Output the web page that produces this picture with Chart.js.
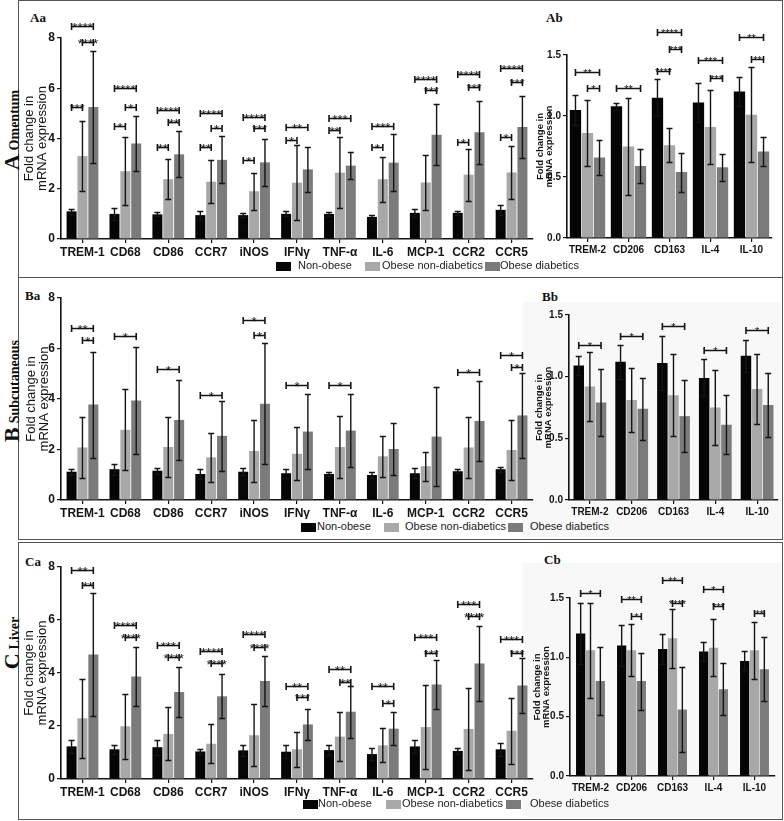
<!DOCTYPE html>
<html>
<head>
<meta charset="utf-8">
<script src="https://cdn.jsdelivr.net/npm/chart.js@4.4.0/dist/chart.umd.min.js"></script>
<style>
  body { margin: 0; background: #fff; width: 784px; height: 821px; position: relative; overflow: hidden; font-family: Arial, "Liberation Sans", sans-serif; }
  .sec { position: absolute; left: 18px; width: 765px; border: 1.5px solid #555; box-sizing: border-box; }
  .shade { position: absolute; background: #f8f8f8; }
  canvas { position: absolute; }
  .letter { position: absolute; font-family: "Liberation Serif", "Times New Roman", serif; font-weight: bold; font-size: 13px; line-height: 13px; color: #111; }
  .side { position: absolute; transform: translate(-50%, -50%) rotate(-90deg); white-space: nowrap; font-family: "Liberation Serif", "Times New Roman", serif; font-weight: bold; font-size: 14px; color: #111; }
  .side b { font-size: 22px; margin-right: 4px; }
  .key { position: absolute; font-size: 11px; line-height: 11px; color: #222; white-space: nowrap; }
  .sw { position: absolute; width: 15px; height: 9px; }
</style>
</head>
<body>
<div class="sec" style="top:0;height:278px"></div>
<div class="sec" style="top:277px;height:263px"></div>
<div class="sec" style="top:542px;height:278px"></div>
<div class="shade" style="left:523px;top:302px;width:258px;height:235px"></div>
<div class="shade" style="left:523px;top:563px;width:258px;height:254px"></div>

<div class="side" style="left:12px;top:130px"><b>A</b>Omentum</div>
<div class="side" style="left:12px;top:391px"><b>B</b>Subcutaneous</div>
<div class="side" style="left:12px;top:643px"><b>C</b>Liver</div>

<div class="letter" style="left:30px;top:11px">Aa</div>
<div class="letter" style="left:546px;top:11px">Ab</div>
<div class="letter" style="left:25px;top:289px">Ba</div>
<div class="letter" style="left:542px;top:290px">Bb</div>
<div class="letter" style="left:25px;top:555px">Ca</div>
<div class="letter" style="left:544px;top:553px">Cb</div>

<canvas id="aa"></canvas>
<canvas id="ab"></canvas>
<canvas id="ba"></canvas>
<canvas id="bb"></canvas>
<canvas id="ca"></canvas>
<canvas id="cb"></canvas>

<div id="keys"></div>

<script>
// groups and categories
const groups = ['Non-obese', 'Obese non-diabetics', 'Obese diabetics'];
const barColors = ['#050505', '#a8a8a8', '#7b7b7b'];
const m1Genes = ['TREM-1', 'CD68', 'CD86', 'CCR7', 'iNOS', 'IFNγ', 'TNF-α', 'IL-6', 'MCP-1', 'CCR2', 'CCR5'];
const m2Genes = ['TREM-2', 'CD206', 'CD163', 'IL-4', 'IL-10'];
const leftTicks = [0, 2, 4, 6, 8];
const leftTickLabels = ['0', '2', '4', '6', '8'];
const rightTicks = [0, 0.5, 1.0, 1.5];
const rightTickLabels = ['0.0', '0.5', '1.0', '1.5'];

// A  omentum, M1 markers (mean rows: non-obese, obese non-diab, obese diab)
const omM1Mean = [
  [1.1, 1.0, 0.98, 0.95, 0.95, 1.0, 1.0, 0.88, 1.04, 1.04, 1.16],
  [3.3, 2.7, 2.38, 2.28, 1.9, 2.24, 2.64, 2.38, 2.25, 2.56, 2.65],
  [5.25, 3.8, 3.37, 3.15, 3.05, 2.77, 2.92, 3.04, 4.15, 4.25, 4.46]
];
const omM1Err = [
  [0.1, 0.25, 0.08, 0.18, 0.08, 0.1, 0.09, 0.09, 0.15, 0.09, 0.2],
  [1.4, 1.36, 0.8, 0.86, 0.74, 1.5, 1.4, 0.9, 1.1, 1.03, 1.07],
  [2.22, 1.1, 0.92, 0.93, 0.95, 0.9, 0.53, 1.13, 1.22, 1.25, 1.25]
];
// [category, from group, to group, bracket level, stars]
const omM1Sig = [
  [0, 0, 2, 8.47, '****'], [0, 1, 2, 7.83, '****'], [0, 0, 1, 5.27, '***'],
  [1, 0, 2, 6.0, '****'], [1, 1, 2, 5.27, '*'], [1, 0, 1, 4.5, '*'],
  [2, 0, 2, 5.14, '****'], [2, 1, 2, 4.67, '**'], [2, 0, 1, 3.67, '**'],
  [3, 0, 2, 5.0, '****'], [3, 1, 2, 4.43, '*'], [3, 0, 1, 3.67, '**'],
  [4, 0, 2, 4.87, '****'], [4, 1, 2, 4.4, '***'], [4, 0, 1, 3.14, '*'],
  [5, 0, 2, 4.47, '**'], [5, 0, 1, 3.94, '*'],
  [6, 0, 2, 4.8, '***'], [6, 0, 1, 4.34, '**'],
  [7, 0, 2, 4.5, '***'], [7, 0, 1, 3.67, '*'],
  [8, 0, 2, 6.36, '****'], [8, 1, 2, 5.94, '***'],
  [9, 0, 2, 6.58, '****'], [9, 1, 2, 6.05, '***'], [9, 0, 1, 3.87, '*'],
  [10, 0, 2, 6.8, '****'], [10, 1, 2, 6.24, '***'], [10, 0, 1, 4.07, '*']
];

// A  omentum, M2 markers
const omM2Mean = [
  [1.05, 1.08, 1.15, 1.11, 1.2],
  [0.86, 0.75, 0.76, 0.91, 1.01],
  [0.66, 0.59, 0.54, 0.58, 0.71]
];
const omM2Err = [
  [0.12, 0.03, 0.15, 0.16, 0.12],
  [0.27, 0.4, 0.14, 0.3, 0.39],
  [0.14, 0.14, 0.16, 0.11, 0.12]
];
const omM2Sig = [
  [0, 0, 2, 1.36, '**'], [0, 1, 2, 1.23, '*'],
  [1, 0, 2, 1.23, '**'],
  [2, 0, 2, 1.69, '****'], [2, 1, 2, 1.55, '***'], [2, 0, 1, 1.37, '****'],
  [3, 0, 2, 1.46, '***'], [3, 1, 2, 1.31, '***'],
  [4, 0, 2, 1.65, '**'], [4, 1, 2, 1.47, '**']
];

// B  subcutaneous, M1 markers
const scM1Mean = [
  [1.12, 1.22, 1.16, 1.03, 1.12, 1.06, 1.03, 0.99, 1.06, 1.14, 1.22],
  [2.08, 2.78, 2.1, 1.69, 1.94, 1.83, 2.1, 1.73, 1.34, 2.08, 1.98],
  [3.78, 3.94, 3.17, 2.54, 3.81, 2.71, 2.75, 2.02, 2.51, 3.13, 3.35]
];
const scM1Err = [
  [0.12, 0.22, 0.12, 0.2, 0.14, 0.18, 0.07, 0.13, 0.2, 0.09, 0.1],
  [1.2, 1.6, 1.2, 0.98, 1.22, 1.05, 1.23, 0.8, 0.58, 1.2, 1.17],
  [2.1, 2.1, 1.6, 1.4, 2.4, 1.5, 1.43, 1.04, 1.95, 1.6, 1.68]
];
const scM1Sig = [
  [0, 0, 2, 6.81, '**'], [0, 1, 2, 6.35, '*'],
  [1, 0, 2, 6.48, '*'], [2, 0, 2, 5.19, '*'], [3, 0, 2, 4.17, '*'],
  [4, 0, 2, 7.12, '*'], [4, 1, 2, 6.52, '*'],
  [5, 0, 2, 4.56, '*'], [6, 0, 2, 4.54, '*'], [9, 0, 2, 5.07, '*'],
  [10, 0, 2, 5.75, '*'], [10, 1, 2, 5.25, '*']
];

// B  subcutaneous, M2 markers
const scM2Mean = [
  [1.09, 1.12, 1.11, 0.99, 1.17],
  [0.92, 0.81, 0.85, 0.75, 0.9],
  [0.79, 0.74, 0.68, 0.61, 0.77]
];
const scM2Err = [
  [0.08, 0.14, 0.22, 0.15, 0.13],
  [0.28, 0.26, 0.33, 0.3, 0.28],
  [0.27, 0.25, 0.29, 0.24, 0.26]
];
const scM2Sig = [
  [0, 0, 2, 1.26, '*'], [1, 0, 2, 1.33, '*'], [2, 0, 2, 1.41, '*'],
  [3, 0, 2, 1.22, '*'], [4, 0, 2, 1.38, '*']
];

// C  liver, M1 markers
const lvM1Mean = [
  [1.23, 1.12, 1.2, 1.04, 1.08, 1.03, 1.09, 0.94, 1.23, 1.06, 1.12],
  [2.29, 1.99, 1.7, 1.33, 1.65, 1.12, 1.6, 1.27, 1.96, 1.89, 1.82],
  [4.7, 3.87, 3.28, 3.12, 3.7, 2.06, 2.54, 1.9, 3.57, 4.36, 3.53]
];
const lvM1Err = [
  [0.25, 0.18, 0.28, 0.08, 0.22, 0.25, 0.19, 0.22, 0.25, 0.11, 0.24],
  [1.5, 1.23, 1.0, 0.73, 1.17, 0.66, 0.92, 0.64, 1.6, 1.54, 1.25],
  [2.33, 1.1, 0.95, 0.83, 0.93, 0.59, 0.98, 0.61, 0.93, 1.4, 1.03]
];
const lvM1Sig = [
  [0, 0, 2, 7.9, '**'], [0, 1, 2, 7.31, '**'],
  [1, 0, 2, 5.8, '****'], [1, 1, 2, 5.36, '****'],
  [2, 0, 2, 5.04, '***'], [2, 1, 2, 4.6, '****'],
  [3, 0, 2, 4.82, '****'], [3, 1, 2, 4.38, '****'],
  [4, 0, 2, 5.48, '****'], [4, 1, 2, 5.0, '****'],
  [5, 0, 2, 3.51, '**'], [5, 1, 2, 3.09, '***'],
  [6, 0, 2, 4.16, '**'], [6, 1, 2, 3.66, '**'],
  [7, 0, 2, 3.51, '**'], [7, 1, 2, 2.87, '*'],
  [8, 0, 2, 5.36, '***'], [8, 1, 2, 4.75, '***'],
  [9, 0, 2, 6.62, '***'], [9, 1, 2, 6.14, '****'],
  [10, 0, 2, 5.3, '***'], [10, 1, 2, 4.75, '***']
];

// C  liver, M2 markers
const lvM2Mean = [
  [1.2, 1.1, 1.07, 1.05, 0.97],
  [1.06, 1.06, 1.16, 1.08, 1.06],
  [0.8, 0.8, 0.56, 0.73, 0.9]
];
const lvM2Err = [
  [0.26, 0.17, 0.13, 0.08, 0.08],
  [0.4, 0.22, 0.25, 0.24, 0.24],
  [0.29, 0.24, 0.36, 0.22, 0.27]
];
const lvM2Sig = [
  [0, 0, 2, 1.54, '*'],
  [1, 0, 2, 1.49, '**'], [1, 1, 2, 1.35, '*'],
  [2, 0, 2, 1.65, '**'], [2, 1, 2, 1.46, '****'],
  [3, 0, 2, 1.58, '*'], [3, 1, 2, 1.43, '***'],
  [4, 1, 2, 1.37, '**']
];

const ink = '#141414';
const narrow = '"Liberation Sans Narrow", "Arial Narrow", "Liberation Sans", Arial, sans-serif';

// error bars + significance brackets, drawn through the y scale
const marksPlugin = {
  id: 'marks',
  afterDatasetsDraw(chart, args, o) {
    const ctx = chart.ctx;
    const y = chart.scales.y;
    ctx.save();
    ctx.strokeStyle = ink;
    ctx.lineWidth = 1.4;
    chart.data.datasets.forEach((ds, i) => {
      chart.getDatasetMeta(i).data.forEach((bar, j) => {
        const v = ds.data[j], e = o.errs[i][j];
        const t = Math.round(y.getPixelForValue(v + e)) + 0.5;
        const b = Math.round(y.getPixelForValue(Math.max(v - e, 0))) + 0.5;
        ctx.beginPath();
        ctx.moveTo(bar.x, t); ctx.lineTo(bar.x, b);
        ctx.moveTo(bar.x - o.cap, t); ctx.lineTo(bar.x + o.cap, t);
        ctx.moveTo(bar.x - o.cap, b); ctx.lineTo(bar.x + o.cap, b);
        ctx.stroke();
      });
    });
    ctx.fillStyle = ink;
    ctx.font = o.starFont;
    ctx.textAlign = 'center';
    ctx.textBaseline = 'alphabetic';
    ctx.lineWidth = 1.6;
    o.sig.forEach(([c, a, b, lvl, stars]) => {
      const x1 = chart.getDatasetMeta(a).data[c].x;
      const x2 = chart.getDatasetMeta(b).data[c].x;
      const yy = Math.round(y.getPixelForValue(lvl)) + 0.5;
      ctx.beginPath();
      ctx.moveTo(x1, yy); ctx.lineTo(x2, yy);
      ctx.moveTo(x1, yy - 3.5); ctx.lineTo(x1, yy + 3.5);
      ctx.moveTo(x2, yy - 3.5); ctx.lineTo(x2, yy + 3.5);
      ctx.stroke();
      ctx.fillText(stars, (x1 + x2) / 2, yy + o.starDrop);
    });
    ctx.restore();
  }
};

const leftStyle = {
  max: 8, ticks: leftTicks, tickLabels: leftTickLabels,
  catPct: 0.76, barPct: 0.92, cap: 3,
  xFont: {family: narrow, size: 12, weight: 'bold'},
  yFont: {family: 'Arial, "Liberation Sans", sans-serif', size: 12, weight: 'bold'},
  titleFont: {family: 'Arial, "Liberation Sans", sans-serif', size: 13, lineHeight: 1},
  starFont: '13px Arial, "Liberation Sans", sans-serif', starDrop: 5
};
const rightStyle = {
  max: 1.5, ticks: rightTicks, tickLabels: rightTickLabels,
  catPct: 0.86, barPct: 0.94, cap: 3,
  xFont: {family: narrow, size: 10, weight: 'bold'},
  yFont: {family: narrow, size: 10, weight: 'bold'},
  titleFont: {family: 'Arial, "Liberation Sans", sans-serif', size: 9.5, weight: 'bold', lineHeight: 0.95},
  starFont: '11px Arial, "Liberation Sans", sans-serif', starDrop: 4.5
};

function makePanel(id, box, area, labels, means, errs, sig, st) {
  const cv = document.getElementById(id);
  cv.width = box.w;
  cv.height = box.h;
  cv.style.left = box.x + 'px';
  cv.style.top = box.y + 'px';
  const yW = area.l - box.x;
  const xH = box.y + box.h - area.b;
  return new Chart(cv, {
    type: 'bar',
    data: {
      labels: labels,
      datasets: groups.map((g, i) => ({
        label: g,
        data: means[i],
        backgroundColor: barColors[i],
        barPercentage: st.barPct,
        categoryPercentage: area.cat || st.catPct
      }))
    },
    options: {
      responsive: false,
      animation: false,
      devicePixelRatio: 1,
      layout: {padding: {left: 0, top: area.t - box.y, right: box.x + box.w - area.r, bottom: 0}},
      plugins: {
        legend: {display: false},
        tooltip: {enabled: false},
        marks: {errs: errs, sig: sig, cap: st.cap, starFont: st.starFont, starDrop: st.starDrop}
      },
      scales: {
        x: {
          grid: {display: true, drawOnChartArea: false, offset: false, tickLength: 4, color: ink, lineWidth: 1.2},
          border: {display: true, color: ink, width: 1.6},
          ticks: {color: ink, font: st.xFont, padding: 2, maxRotation: 0, autoSkip: false},
          afterFit: s => { s.height = xH; }
        },
        y: {
          min: 0,
          max: st.max,
          afterBuildTicks: s => { s.ticks = st.ticks.map(v => ({value: v})); },
          grid: {display: true, drawOnChartArea: false, tickLength: 4, color: ink, lineWidth: 1.2},
          border: {display: true, color: ink, width: 1.6},
          ticks: {color: ink, font: st.yFont, padding: 2, callback: (v, i) => st.tickLabels[i]},
          title: {
            display: true,
            text: ['Fold change in', 'mRNA expression'],
            color: ink,
            font: st.titleFont,
            padding: {top: area.tp, bottom: 0}
          },
          afterFit: s => { s.width = yW; }
        }
      }
    },
    plugins: [marksPlugin]
  });
}

makePanel('aa', {x: 20, y: 2, w: 520, h: 262}, {l: 61, t: 38, r: 533, b: 239, tp: 3},
  m1Genes, omM1Mean, omM1Err, omM1Sig, leftStyle);
makePanel('ab', {x: 528, y: 2, w: 252, h: 262}, {l: 567, t: 55, r: 772, b: 238, tp: 8, cat: 0.88},
  m2Genes, omM2Mean, omM2Err, omM2Sig, rightStyle);
makePanel('ba', {x: 20, y: 279, w: 520, h: 240}, {l: 61, t: 298, r: 533, b: 500, tp: 5},
  m1Genes, scM1Mean, scM1Err, scM1Sig, leftStyle);
makePanel('bb', {x: 528, y: 279, w: 252, h: 240}, {l: 569, t: 315, r: 778, b: 500, tp: 7, cat: 0.8},
  m2Genes, scM2Mean, scM2Err, scM2Sig, rightStyle);
makePanel('ca', {x: 20, y: 544, w: 520, h: 255}, {l: 61, t: 567, r: 533, b: 779, tp: 3},
  m1Genes, lvM1Mean, lvM1Err, lvM1Sig, leftStyle);
makePanel('cb', {x: 528, y: 544, w: 252, h: 255}, {l: 570, t: 598, r: 775, b: 776, tp: 4.5, cat: 0.72},
  m2Genes, lvM2Mean, lvM2Err, lvM2Sig, rightStyle);

// legends (one row per section)
const keyRows = [
  {y: 266, at: [[276, 298], [365, 382], [485, 500]]},
  {y: 527, at: [[301, 317], [384, 405], [508, 530]]},
  {y: 804, at: [[303, 318], [386, 402], [506, 530]]}
];
const keys = document.getElementById('keys');
keyRows.forEach(row => {
  groups.forEach((g, i) => {
    const sw = document.createElement('div');
    sw.className = 'sw';
    sw.style.left = row.at[i][0] + 'px';
    sw.style.top = (row.y - 4.5) + 'px';
    sw.style.background = barColors[i];
    keys.appendChild(sw);
    const t = document.createElement('div');
    t.className = 'key';
    t.style.left = row.at[i][1] + 'px';
    t.style.top = (row.y - 6) + 'px';
    t.textContent = g;
    keys.appendChild(t);
  });
});
</script>
</body>
</html>
